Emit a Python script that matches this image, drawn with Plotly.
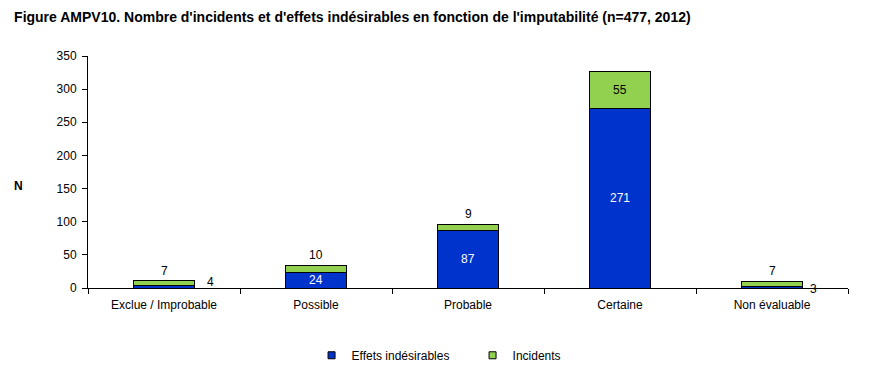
import plotly.graph_objects as go

categories = ["Exclue / Improbable", "Possible", "Probable", "Certaine", "Non évaluable"]
effets = [4, 24, 87, 271, 3]
incidents = [7, 10, 9, 55, 7]

BLUE = "#0033CC"
GREEN = "#92D050"
FONT = "Liberation Sans, Arial, sans-serif"

fig = go.Figure()
fig.add_trace(go.Bar(x=categories, y=effets, name="Effets indésirables",
                     marker=dict(color=BLUE, line=dict(color="black", width=1)),
                     width=0.4, showlegend=False))
fig.add_trace(go.Bar(x=categories, y=incidents, name="Incidents",
                     marker=dict(color=GREEN, line=dict(color="black", width=1)),
                     width=0.4, showlegend=False))
# legend proxies (small squares)
for name, col in [("Effets indésirables", BLUE), ("Incidents", GREEN)]:
    fig.add_trace(go.Scatter(x=[None], y=[None], mode="markers", name=name,
                             marker=dict(symbol="square", size=7, color=col,
                                         line=dict(color="black", width=1))))

annotations = []
for i, (c, e, n) in enumerate(zip(categories, effets, incidents)):
    total = e + n
    if e >= 20:
        annotations.append(dict(x=c, y=e / 2, text=str(e), showarrow=False,
                                font=dict(color="white", size=12, family=FONT)))
    else:
        annotations.append(dict(x=c, y=e, text=str(e), showarrow=False,
                                xshift=46 if e > 3 else 41,
                                yanchor="middle", yshift=3 if e > 3 else -3,
                                font=dict(color="black", size=12, family=FONT)))
    if n >= 30:
        annotations.append(dict(x=c, y=e + n / 2, text=str(n), showarrow=False,
                                font=dict(color="black", size=12, family=FONT)))
    else:
        annotations.append(dict(x=c, y=total, text=str(n), showarrow=False,
                                yanchor="bottom", yshift=1,
                                font=dict(color="black", size=12, family=FONT)))

annotations.append(dict(xref="paper", yref="paper", x=-0.092, y=0.44, text="<b>N</b>",
                        showarrow=False, xanchor="center", yanchor="middle",
                        font=dict(color="black", size=12, family=FONT)))

fig.update_layout(
    barmode="stack",
    width=869, height=380,
    margin=dict(l=80, r=29, t=48, b=100),
    paper_bgcolor="white", plot_bgcolor="white",
    font=dict(family=FONT, size=12, color="black"),
    title=dict(text="<b>Figure AMPV10. Nombre d'incidents et d'effets indésirables en fonction de l'imputabilité (n=477, 2012)</b>",
               x=0.007, xanchor="left", y=0.975, yanchor="middle",
               font=dict(size=14, family=FONT, color="black")),
    xaxis=dict(showline=True, linecolor="black", linewidth=1, ticks="outside",
               tickson="boundaries", ticklen=5, tickcolor="black", showgrid=False,
               tickfont=dict(size=12), ticklabelstandoff=6),
    yaxis=dict(range=[0, 350], dtick=50, showline=True, linecolor="black", linewidth=1,
               ticks="outside", ticklen=5, tickcolor="black", showgrid=False,
               zeroline=False, tickfont=dict(size=12), ticklabelstandoff=3),
    legend=dict(orientation="h", x=0.506, xanchor="center", y=-0.29, yanchor="middle",
                font=dict(size=12), entrywidth=116, itemwidth=30, traceorder="normal"),
    annotations=annotations,
    bargap=0.6,
)

fig.write_html("out.html")
